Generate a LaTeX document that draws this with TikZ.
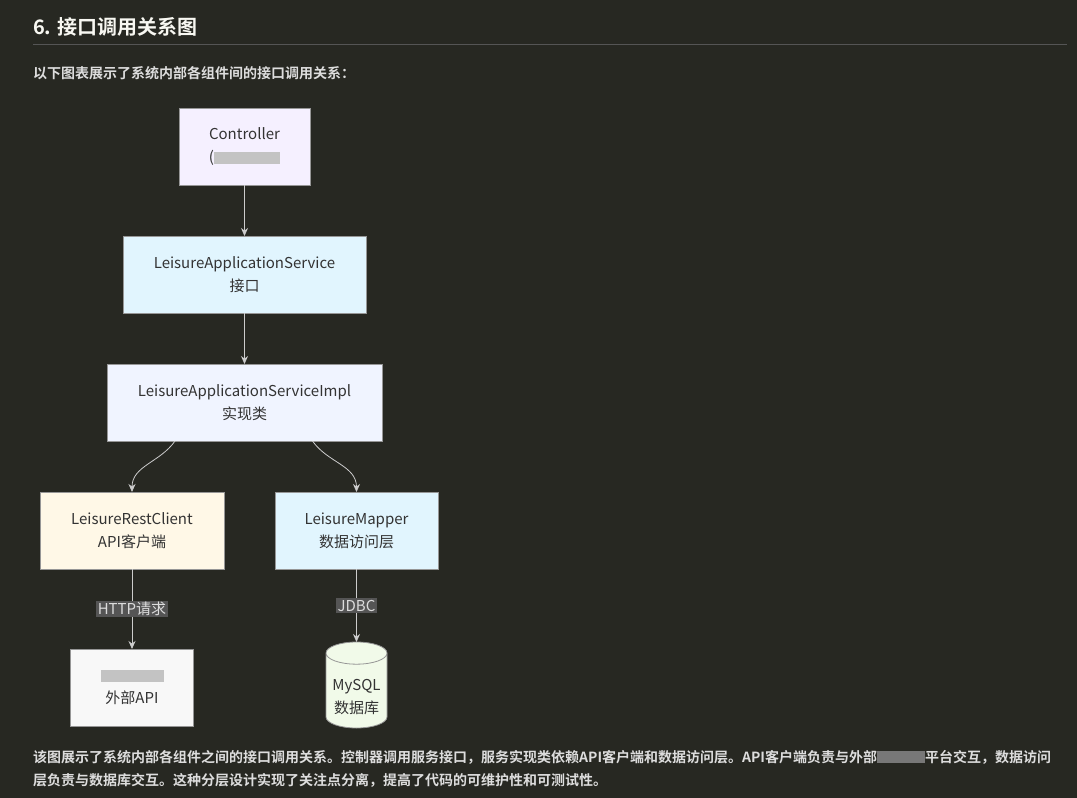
\documentclass[tikz,border=0pt]{standalone}
\usepackage{fontspec}
\setmainfont{Noto Sans CJK SC}[BoldFont={Noto Sans CJK SC Bold}]
\usetikzlibrary{positioning, shapes.geometric, arrows.meta}
\definecolor{mybg}{RGB}{39,40,34}
\definecolor{mytitle}{RGB}{248,248,242}
\definecolor{myrule}{RGB}{85,85,85}
\definecolor{myprose}{RGB}{221,221,221}
\definecolor{myborder}{RGB}{150,150,150}
\definecolor{mytext}{RGB}{51,51,51}
\definecolor{myarrow}{RGB}{204,204,204}
\definecolor{mylabel}{RGB}{85,85,85}
\definecolor{mylabeltext}{RGB}{220,220,220}
\definecolor{myviolet}{RGB}{245,240,255}
\definecolor{mycyan}{RGB}{225,245,254}
\definecolor{mylavender}{RGB}{240,244,255}
\definecolor{mycream}{RGB}{255,248,231}
\definecolor{mywhite}{RGB}{248,248,248}
\definecolor{mygreen}{RGB}{241,250,233}
\definecolor{myblur}{RGB}{195,195,195}
\definecolor{myblurdark}{RGB}{120,120,120}
\newcommand{\blurbox}[2][myblur]{\textcolor{#1}{\rule[-1pt]{#2}{12pt}}}

\begin{document}
\begin{tikzpicture}[
		x=1pt, y=-1pt,
		node distance=51pt and 2cm,
		box/.style={rectangle, draw=myborder, line width=0.8pt, outer sep=0pt, minimum height=77pt, inner sep=0pt, align=center, text=mytext, font=\fontsize{15}{23}\selectfont},
		arrow/.style={draw=myarrow, line width=0.8pt, -{Stealth[length=8pt, width=7pt]}},
		lbl/.style={fill=mylabel, text=mylabeltext, inner sep=1.5pt, font=\fontsize{15}{17}\selectfont},
		prose/.style={anchor=west, inner sep=0pt, text=myprose, font=\fontsize{14}{16}\selectfont\bfseries}
		]
		
		\fill[mybg] (0,0) rectangle (1077,798);
		\useasboundingbox (0,0) rectangle (1077,798);
		
		% Heading
		\node[anchor=west, inner sep=0pt, text=mytitle, font=\fontsize{20}{24}\selectfont\bfseries] (title) at (33,27) {6. 接口调用关系图};
		\draw[myrule, line width=1pt] (33,44) -- (1067,44);
		\node[prose] (intro) at (33,73) {以下图表展示了系统内部各组件间的接口调用关系：};
		
		% Nodes
		\node[box, minimum width=131pt, fill=myviolet] (ctrl) at (244.5,146.5) {Controller\\(\blurbox{66pt}};
		\node[box, below=of ctrl, minimum width=243pt, fill=mycyan] (service) {LeisureApplicationService\\接口};
		\node[box, below=of service, minimum width=275pt, fill=mylavender] (impl) {LeisureApplicationServiceImpl\\实现类};
		\node[box, below=of impl, xshift=-112.5pt, minimum width=184pt, fill=mycream] (client) {LeisureRestClient\\API客户端};
		\node[box, below=of impl, xshift=112pt, minimum width=163pt, fill=mycyan] (mapper) {LeisureMapper\\数据访问层};
		\node[box, below=80pt of client, minimum width=123pt, fill=mywhite] (extapi) {\blurbox{63pt}\\外部API};
		\node[cylinder, shape border rotate=90, aspect=0.46, draw=myborder, line width=0.8pt, outer sep=0pt, fill=mygreen, minimum width=61pt, minimum height=86pt, inner sep=0pt, align=center, text=mytext, font=\fontsize{15}{23}\selectfont, below=73pt of mapper] (db) {\\MySQL\\数据库};
		
		% Arrows
		\draw[arrow] (ctrl) -- (service);
		\draw[arrow] (service) -- (impl);
		\draw[arrow] ([xshift=-69.5pt]impl.south) to[out=-125, in=90] (client.north);
		\draw[arrow] ([xshift=68pt]impl.south) to[out=-55, in=90] (mapper.north);
		\draw[arrow] (client) -- node[lbl] {HTTP请求} (extapi);
		\draw[arrow] (mapper) -- node[lbl] {JDBC} (db);
		
		% Summary
		\node[prose] (summary1) at (33,757) {该图展示了系统内部各组件之间的接口调用关系。控制器调用服务接口，服务实现类依赖API客户端和数据访问层。API客户端负责与外部\blurbox[myblurdark]{48pt}平台交互，数据访问};
		\node[prose] (summary2) at (33,780) {层负责与数据库交互。这种分层设计实现了关注点分离，提高了代码的可维护性和可测试性。};
		
	\end{tikzpicture}
\end{document}
